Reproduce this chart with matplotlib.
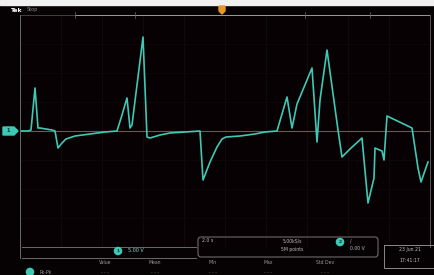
import matplotlib
matplotlib.use("Agg")
import matplotlib.pyplot as plt
from matplotlib.patches import FancyBboxPatch, Circle, Polygon, Rectangle

# ---- data (time in divisions, amplitude in divisions) ----
trace_x_px = [20, 28, 31, 35, 38, 40, 52, 55, 58, 62, 66, 75, 90, 105, 117, 122, 127, 130, 132,
              143, 147, 150, 160, 170, 185, 200, 203, 210, 217, 222, 226, 240, 255, 265, 277,
              287, 292, 297, 312, 317, 320, 327, 338, 342, 350, 362, 368, 374, 375, 382, 384,
              387, 412, 418, 421, 428]
trace_y_px = [131, 131, 130, 88, 128, 128, 130, 131, 148, 143, 139, 136, 134, 132, 131, 115, 98, 128, 125,
              37, 137, 138, 135, 133, 132, 131, 180, 162, 147, 139, 137, 136, 134, 132, 131,
              97, 128, 104, 68, 142, 100, 50, 130, 157, 149, 138, 203, 178, 148, 151, 160,
              116, 128, 168, 182, 162]

X0, X1, Y0, Y1 = 20, 430, 15, 247
DIV_X = (X1 - X0) / 10.0
DIV_Y = (Y1 - Y0) / 8.0
time_div = [(x - X0) / DIV_X for x in trace_x_px]
volt_div = [(131 - y) / DIV_Y for y in trace_y_px]

header_labels = ["Value", "Mean", "Min", "Max", "Std Dev"]

W, H = 435, 275
fig = plt.figure(figsize=(W / 100, H / 100), dpi=100)
fig.patch.set_facecolor("#060103")

# scope graticule axes
ax = fig.add_axes([X0 / W, 1 - Y1 / H, (X1 - X0) / W, (Y1 - Y0) / H])
ax.set_zorder(1)
ax.set_facecolor("#070104")
ax.set_xlim(0, 10)
ax.set_ylim(-4, 4)
for s in ax.spines.values():
    s.set_visible(False)
ax.set_xticks([])
ax.set_yticks([])
for i in range(1, 10):
    ax.axvline(i, color="#140d0f", lw=0.5, zorder=1)
for j in range(-3, 4):
    if j != 0:
        ax.axhline(j, color="#0f0a0c", lw=0.5, zorder=1)
ax.axhline(0, color="#6b5a52", lw=0.8, zorder=2)
ax.plot(time_div, volt_div, color="#3ec9b4", lw=1.2, zorder=5, solid_joinstyle="round")

# overlay axes in pixel coordinates for the instrument frame
ov = fig.add_axes([0, 0, 1, 1])
ov.set_zorder(2)
ov.patch.set_alpha(0)
ov.set_xlim(0, W)
ov.set_ylim(H, 0)
ov.axis("off")

# top strip
ov.add_patch(Rectangle((0, 0), W, 4.5, color="#f0f0f0", zorder=1))
ov.text(10, 10, "Tek", color="white", fontsize=4.5, fontweight="bold", va="center", ha="left", zorder=3)
ov.text(27, 10, "Stop", color="#8a8a8a", fontsize=3.5, va="center", ha="left", zorder=3)
ov.plot([75, 430], [15, 15], color="#9a9a9a", lw=0.7, zorder=3)
ov.plot([20, 75], [15, 15], color="#4a4a4a", lw=0.6, zorder=3)
for xx in [75, 135, 305, 370]:
    ov.plot([xx, xx], [12, 18], color="#6a6a6a", lw=0.5, zorder=3)
ov.add_patch(Polygon([[219, 6], [225, 6], [225, 11], [222, 14], [219, 11]], color="#e8962a", zorder=4))

# frame lines
ov.plot([X0, X0], [15, 258], color="#6a6a6a", lw=0.7, zorder=3)
ov.plot([X1, X1], [15, 247], color="#5a5a5a", lw=0.7, zorder=3)

# channel marker
ov.add_patch(Polygon([[3, 127], [14, 127], [18, 131], [14, 135], [3, 135]], color="#3ec9b4", zorder=4))
ov.text(8, 131, "1", color="#06332c", fontsize=3.5, fontweight="bold", va="center", ha="center", zorder=5)

# bottom readouts
ov.plot([22, 196], [247, 247], color="#6a6a6a", lw=0.7, zorder=3)
ov.plot([22, 196], [258, 258], color="#6a6a6a", lw=0.7, zorder=3)
ov.add_patch(Circle((118, 251), 3.6, color="#3ec9b4", zorder=4))
ov.text(118, 251, "1", color="#06332c", fontsize=3.2, fontweight="bold", ha="center", va="center", zorder=5)
ov.text(128, 251, "5.00 V", color="#8fd8c8", fontsize=3.5, ha="left", va="center", zorder=5)

ov.add_patch(FancyBboxPatch((198, 237), 180, 20, boxstyle="round,pad=0,rounding_size=3",
                            fill=False, ec="#7a7a7a", lw=0.7, zorder=3))
ov.text(202, 241, "2.0 s", color="#bdbdbd", fontsize=3.3, ha="left", va="center", zorder=5)
ov.text(292, 241, "5.00kS/s", color="#bdbdbd", fontsize=3.3, ha="center", va="center", zorder=5)
ov.text(292, 249, "5M points", color="#bdbdbd", fontsize=3.3, ha="center", va="center", zorder=5)
ov.add_patch(Circle((340, 242), 3.6, color="#3ec9b4", zorder=4))
ov.text(340, 242, "2", color="#06332c", fontsize=3.2, fontweight="bold", ha="center", va="center", zorder=5)
ov.text(350, 241, "/", color="#bdbdbd", fontsize=3.3, ha="left", va="center", zorder=5)
ov.text(350, 249, "0.00 V", color="#bdbdbd", fontsize=3.3, ha="left", va="center", zorder=5)

ov.add_patch(Rectangle((384, 245), 55, 23, fill=False, ec="#8a8a8a", lw=0.7, zorder=3))
ov.text(410, 250, "23 Jun 21", color="#bdbdbd", fontsize=3.3, ha="center", va="center", zorder=5)
ov.text(410, 261, "17:41:17", color="#bdbdbd", fontsize=3.3, ha="center", va="center", zorder=5)

hdr_x = [105, 155, 213, 268, 325]
for lab, xx in zip(header_labels, hdr_x):
    ov.text(xx, 263, lab, color="#9a9a9a", fontsize=3.3, ha="center", va="center", zorder=5)
ov.add_patch(Circle((30, 272), 3.6, color="#3ec9b4", zorder=4))
ov.text(40, 272, "Pk-Pk", color="#9a9a9a", fontsize=3.3, ha="left", va="center", zorder=5)
for xx in hdr_x:
    ov.text(xx, 273, "- - -", color="#7a7a7a", fontsize=3.3, ha="center", va="center", zorder=5)

fig.savefig("out.png", dpi=100, facecolor=fig.get_facecolor())
